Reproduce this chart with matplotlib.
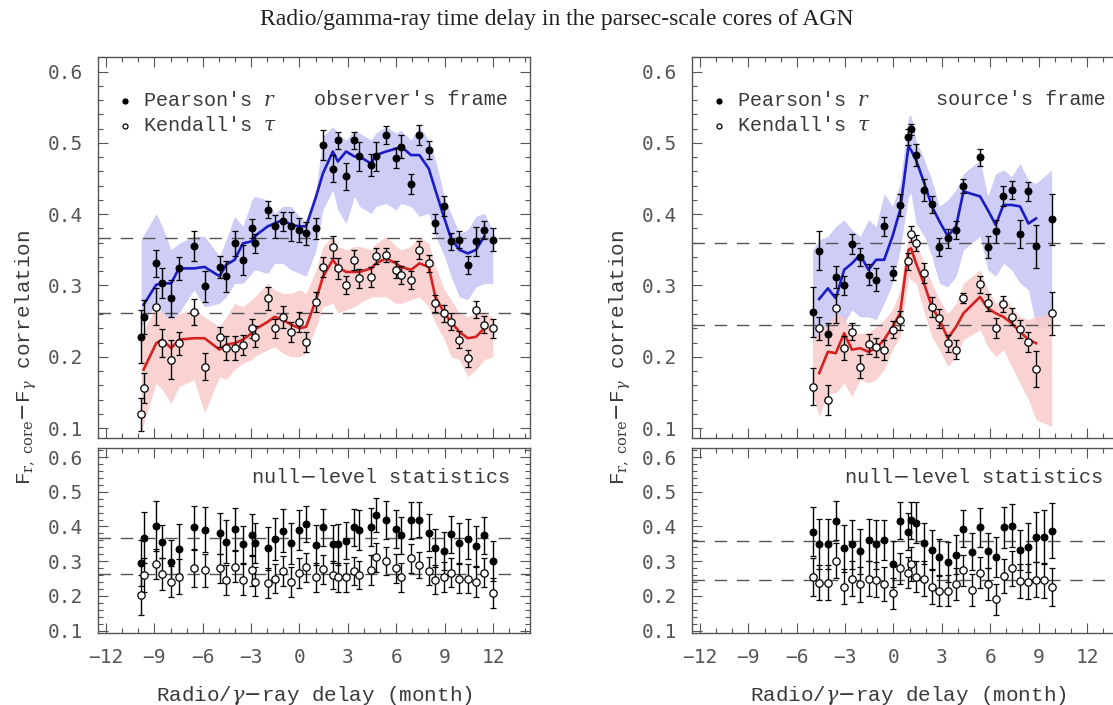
import matplotlib
matplotlib.use("Agg")
import matplotlib.pyplot as plt
from matplotlib.ticker import MultipleLocator

plt.rcParams["mathtext.fontset"] = "dejavuserif"

# ---------------- observer's frame ----------------
lag_obs = [-9.82, -9.67, -8.89, -8.52, -7.96, -7.48, -6.55, -5.89, -4.96, -4.55,
           -4.03, -3.51, -2.96, -2.79, -1.97, -1.55, -1.03, -0.52, 0.00, 0.41,
           1.03, 1.45, 2.07, 2.38, 2.89, 3.41, 3.72, 4.44, 4.75, 5.37,
           5.99, 6.30, 6.92, 7.44, 8.02, 8.43, 8.99, 9.40, 9.92, 10.44,
           10.95, 11.47, 11.99]

pearson_obs = [0.228, 0.256, 0.331, 0.303, 0.282, 0.324, 0.355, 0.299, 0.326, 0.313,
               0.359, 0.336, 0.380, 0.359, 0.406, 0.383, 0.390, 0.383, 0.378, 0.373,
               0.380, 0.497, 0.464, 0.504, 0.453, 0.504, 0.481, 0.469, 0.481, 0.511,
               0.479, 0.495, 0.443, 0.511, 0.490, 0.387, 0.411, 0.362, 0.364, 0.329,
               0.362, 0.378, 0.364]
pearson_obs_err = [0.037, 0.024, 0.019, 0.021, 0.026, 0.016, 0.021, 0.022, 0.015, 0.022,
                   0.017, 0.021, 0.013, 0.013, 0.012, 0.016, 0.013, 0.020, 0.017, 0.016,
                   0.015, 0.021, 0.019, 0.012, 0.019, 0.012, 0.020, 0.015, 0.020, 0.013,
                   0.014, 0.016, 0.014, 0.014, 0.013, 0.013, 0.014, 0.012, 0.012, 0.013,
                   0.020, 0.013, 0.016]

kendall_obs = [0.119, 0.156, 0.270, 0.219, 0.196, 0.219, 0.263, 0.186, 0.228, 0.212,
               0.212, 0.217, 0.240, 0.228, 0.282, 0.240, 0.256, 0.235, 0.249, 0.221,
               0.277, 0.326, 0.354, 0.324, 0.301, 0.336, 0.310, 0.312, 0.341, 0.343,
               0.322, 0.315, 0.308, 0.350, 0.331, 0.275, 0.261, 0.249, 0.224, 0.198,
               0.266, 0.245, 0.240]
kendall_obs_err = [0.023, 0.021, 0.026, 0.020, 0.027, 0.016, 0.018, 0.019, 0.014, 0.017,
                   0.017, 0.014, 0.013, 0.015, 0.016, 0.013, 0.015, 0.014, 0.014, 0.014,
                   0.014, 0.014, 0.015, 0.015, 0.013, 0.014, 0.013, 0.014, 0.011, 0.010,
                   0.012, 0.013, 0.013, 0.013, 0.012, 0.012, 0.012, 0.012, 0.012, 0.012,
                   0.012, 0.012, 0.013]

pearson_obs_mean = [None, 0.273, 0.301, 0.303, 0.303, 0.324, 0.324, 0.326, 0.313, 0.329,
                    0.336, 0.359, 0.362, 0.369, 0.383, 0.387, 0.392, 0.385, 0.383, 0.383,
                    0.425, 0.457, 0.488, 0.474, 0.488, 0.481, 0.481, 0.471, 0.483, 0.488,
                    0.492, 0.495, 0.483, 0.483, 0.464, 0.434, 0.394, 0.366, 0.350, 0.345,
                    0.350, 0.369, None]
kendall_obs_mean = [None, 0.182, 0.219, 0.224, 0.212, 0.224, 0.226, 0.226, 0.210, 0.217,
                    0.219, 0.224, 0.233, 0.238, 0.249, 0.256, 0.252, 0.245, 0.240, 0.242,
                    0.280, 0.312, 0.336, 0.326, 0.319, 0.319, 0.319, 0.324, 0.331, 0.338,
                    0.331, 0.326, 0.322, 0.331, 0.326, 0.284, 0.261, 0.249, 0.235, 0.226,
                    0.228, 0.240, None]

pearson_obs_hi = [0.364, 0.371, 0.401, 0.383, 0.350, 0.359, 0.369, 0.369, 0.341, 0.364,
                  0.397, 0.383, 0.420, 0.425, 0.420, 0.401, 0.411, 0.411, 0.397, 0.387,
                  0.434, 0.509, 0.523, 0.514, 0.504, 0.518, 0.514, 0.504, 0.514, 0.523,
                  0.514, 0.518, 0.504, 0.523, 0.504, 0.476, 0.425, 0.401, 0.373, 0.378,
                  0.397, 0.401, 0.378]
pearson_obs_lo = [0.242, 0.247, 0.275, 0.261, 0.252, 0.261, 0.294, 0.270, 0.275, 0.284,
                  0.303, 0.303, 0.317, 0.322, 0.317, 0.331, 0.331, 0.322, 0.317, 0.313,
                  0.350, 0.406, 0.434, 0.406, 0.387, 0.425, 0.411, 0.401, 0.411, 0.415,
                  0.406, 0.415, 0.411, 0.397, 0.401, 0.369, 0.341, 0.313, 0.284, 0.280,
                  0.298, 0.303, 0.303]
kendall_obs_hi = [0.228, 0.238, 0.270, 0.261, 0.252, 0.261, 0.266, 0.256, 0.242, 0.256,
                  0.275, 0.270, 0.280, 0.284, 0.303, 0.294, 0.289, 0.289, 0.294, 0.289,
                  0.322, 0.355, 0.369, 0.355, 0.350, 0.355, 0.355, 0.350, 0.359, 0.369,
                  0.355, 0.350, 0.355, 0.369, 0.359, 0.327, 0.294, 0.280, 0.261, 0.256,
                  0.261, 0.261, 0.256]
kendall_obs_lo = [0.093, 0.107, 0.163, 0.154, 0.135, 0.158, 0.168, 0.121, 0.172, 0.168,
                  0.182, 0.191, 0.196, 0.200, 0.210, 0.214, 0.205, 0.200, 0.200, 0.205,
                  0.242, 0.270, 0.275, 0.261, 0.266, 0.270, 0.275, 0.284, 0.284, 0.284,
                  0.275, 0.275, 0.280, 0.284, 0.270, 0.247, 0.224, 0.200, 0.196, 0.172,
                  0.182, 0.196, 0.200]

null_pearson_obs = [0.294, 0.368, 0.401, 0.356, 0.298, 0.334, 0.397, 0.390, 0.380, 0.356,
                    0.392, 0.349, 0.375, 0.353, 0.337, 0.363, 0.388, 0.351, 0.390, 0.407,
                    0.346, 0.397, 0.349, 0.348, 0.359, 0.397, 0.390, 0.399, 0.433, 0.418,
                    0.392, 0.375, 0.418, 0.420, 0.382, 0.337, 0.330, 0.377, 0.353, 0.363,
                    0.344, 0.375, 0.301]
null_pearson_obs_err = [0.067, 0.074, 0.072, 0.048, 0.062, 0.072, 0.062, 0.065, 0.060, 0.062,
                        0.060, 0.053, 0.060, 0.058, 0.062, 0.060, 0.062, 0.058, 0.058, 0.053,
                        0.058, 0.053, 0.055, 0.058, 0.053, 0.053, 0.058, 0.055, 0.050, 0.055,
                        0.055, 0.053, 0.053, 0.050, 0.053, 0.055, 0.055, 0.053, 0.058, 0.058,
                        0.058, 0.053, 0.058]
null_kendall_obs = [0.202, 0.260, 0.292, 0.263, 0.241, 0.255, 0.279, 0.274, 0.279, 0.246,
                    0.284, 0.247, 0.274, 0.241, 0.236, 0.250, 0.272, 0.241, 0.265, 0.282,
                    0.253, 0.276, 0.260, 0.253, 0.253, 0.272, 0.260, 0.274, 0.311, 0.301,
                    0.279, 0.253, 0.308, 0.289, 0.272, 0.247, 0.255, 0.267, 0.250, 0.250,
                    0.241, 0.267, 0.209]
null_kendall_obs_err = [0.058, 0.048, 0.043, 0.045, 0.045, 0.050, 0.053, 0.048, 0.043, 0.043,
                        0.045, 0.045, 0.045, 0.041, 0.043, 0.043, 0.043, 0.043, 0.043, 0.041,
                        0.043, 0.041, 0.041, 0.041, 0.041, 0.041, 0.041, 0.043, 0.041, 0.041,
                        0.043, 0.041, 0.041, 0.038, 0.041, 0.041, 0.043, 0.041, 0.041, 0.043,
                        0.043, 0.041, 0.043]

# ---------------- source's frame ----------------
lag_src = [-5.02, -4.61, -4.07, -3.58, -3.06, -2.58, -2.07, -1.55, -1.08, -0.58,
           -0.06, 0.41, 0.93, 1.09, 1.40, 1.92, 2.38, 2.85, 3.37, 3.88,
           4.34, 5.37, 5.85, 6.34, 6.82, 7.33, 7.85, 8.37, 8.84, 9.81]

pearson_src = [0.263, 0.349, 0.232, 0.312, 0.300, 0.358, 0.340, 0.315, 0.308, 0.383,
               0.318, 0.413, 0.508, 0.519, 0.483, 0.434, 0.414, 0.354, 0.366, 0.378,
               0.440, 0.480, 0.354, 0.376, 0.426, 0.434, 0.372, 0.432, 0.355, 0.393]
pearson_src_err = [0.035, 0.027, 0.016, 0.016, 0.014, 0.014, 0.013, 0.015, 0.016, 0.013,
                   0.010, 0.015, 0.011, 0.008, 0.016, 0.016, 0.012, 0.013, 0.013, 0.013,
                   0.010, 0.012, 0.016, 0.016, 0.014, 0.012, 0.020, 0.013, 0.030, 0.036]
kendall_src = [0.158, 0.240, 0.139, 0.268, 0.212, 0.235, 0.186, 0.218, 0.213, 0.210,
               0.238, 0.251, 0.334, 0.372, 0.360, 0.318, 0.270, 0.254, 0.219, 0.210,
               0.282, 0.302, 0.276, 0.240, 0.274, 0.256, 0.239, 0.221, 0.183, 0.261]
kendall_src_err = [0.026, 0.016, 0.021, 0.020, 0.017, 0.012, 0.016, 0.014, 0.014, 0.014,
                   0.012, 0.013, 0.012, 0.011, 0.011, 0.014, 0.014, 0.013, 0.012, 0.013,
                   0.007, 0.012, 0.012, 0.014, 0.011, 0.012, 0.013, 0.014, 0.025, 0.030]

pearson_src_mean = [None, 0.281, 0.296, 0.282, 0.322, 0.331, 0.343, 0.322, 0.336, 0.336,
                    0.369, 0.406, 0.495, 0.490, 0.476, 0.443, 0.411, 0.390, 0.369, 0.383,
                    0.432, 0.425, 0.406, 0.385, 0.413, 0.413, 0.411, 0.387, 0.394, None]
kendall_src_mean = [None, 0.177, 0.207, 0.205, 0.233, 0.210, 0.212, 0.207, 0.212, 0.224,
                    0.242, 0.261, 0.350, 0.352, 0.331, 0.301, 0.270, 0.252, 0.226, 0.242,
                    0.261, 0.284, 0.268, 0.261, 0.256, 0.247, 0.235, 0.224, 0.219, None]

pearson_src_hi = [0.350, 0.364, 0.369, 0.383, 0.392, 0.378, 0.369, 0.392, 0.383, 0.429,
                  0.411, 0.443, 0.537, 0.539, 0.504, 0.476, 0.448, 0.411, 0.420, 0.434,
                  0.457, 0.476, 0.425, 0.457, 0.462, 0.453, 0.471, 0.448, 0.443, 0.462]
pearson_src_lo = [0.219, 0.228, 0.219, 0.247, 0.247, 0.266, 0.256, 0.256, 0.252, 0.275,
                  0.303, 0.350, 0.425, 0.429, 0.387, 0.369, 0.341, 0.303, 0.298, 0.313,
                  0.350, 0.369, 0.322, 0.313, 0.331, 0.322, 0.303, 0.294, 0.242, 0.242]
kendall_src_hi = [0.224, 0.238, 0.247, 0.261, 0.256, 0.233, 0.233, 0.233, 0.242, 0.252,
                  0.266, 0.294, 0.369, 0.373, 0.359, 0.331, 0.303, 0.280, 0.261, 0.275,
                  0.303, 0.322, 0.294, 0.275, 0.284, 0.270, 0.256, 0.252, 0.256, 0.261]
kendall_src_lo = [0.149, 0.116, 0.149, 0.149, 0.163, 0.144, 0.168, 0.163, 0.168, 0.182,
                  0.210, 0.228, 0.313, 0.308, 0.303, 0.261, 0.228, 0.210, 0.186, 0.200,
                  0.224, 0.238, 0.214, 0.200, 0.210, 0.186, 0.163, 0.140, 0.112, 0.102]

lag_src_null = [-5.02, -4.61, -4.07, -3.58, -3.06, -2.58, -2.07, -1.55, -1.08, -0.58,
                -0.06, 0.41, 0.93, 1.09, 1.40, 1.92, 2.38, 2.85, 3.37, 3.88,
                4.34, 4.86, 5.37, 5.85, 6.34, 6.86, 7.33, 7.85, 8.37, 8.84,
                9.34, 9.81]
null_pearson_src = [0.385, 0.349, 0.349, 0.417, 0.337, 0.348, 0.329, 0.361, 0.348, 0.361,
                    0.292, 0.417, 0.385, 0.418, 0.411, 0.351, 0.332, 0.311, 0.298, 0.319,
                    0.394, 0.327, 0.397, 0.330, 0.313, 0.397, 0.402, 0.332, 0.340, 0.370,
                    0.370, 0.388]
null_pearson_src_err = [0.070, 0.072, 0.072, 0.055, 0.067, 0.070, 0.065, 0.060, 0.070, 0.058,
                        0.067, 0.053, 0.053, 0.053, 0.058, 0.058, 0.058, 0.053, 0.058, 0.055,
                        0.053, 0.053, 0.055, 0.050, 0.058, 0.060, 0.062, 0.058, 0.070, 0.072,
                        0.077, 0.080]
null_kendall_src = [0.255, 0.238, 0.238, 0.301, 0.226, 0.250, 0.233, 0.250, 0.247, 0.234,
                    0.207, 0.279, 0.267, 0.292, 0.255, 0.250, 0.226, 0.215, 0.215, 0.234,
                    0.274, 0.217, 0.267, 0.234, 0.190, 0.257, 0.279, 0.243, 0.241, 0.247,
                    0.245, 0.226]
null_kendall_src_err = [0.055, 0.050, 0.050, 0.050, 0.050, 0.050, 0.050, 0.050, 0.050, 0.050,
                        0.045, 0.045, 0.045, 0.050, 0.045, 0.050, 0.050, 0.045, 0.045, 0.045,
                        0.045, 0.045, 0.045, 0.045, 0.045, 0.050, 0.050, 0.050, 0.050, 0.050,
                        0.050, 0.055]

# null-hypothesis reference levels (Pearson, Kendall)
levels_obs = [0.367, 0.262]
levels_src = [0.359, 0.245]

TITLE = "Radio/gamma-ray time delay in the parsec-scale cores of AGN"
XLABEL = r"Radio/$\gamma$$-$ray delay (month)"
YLABEL = r"F$_{\mathrm{r,\ core}}$$-$F$_{\gamma}$ correlation"

BLUE_LINE = "#1c1cc4"
BLUE_BAND = "#cdcdf6"
RED_LINE = "#d42222"
RED_BAND = "#f8caca"
INK = "#3a3a3a"
GREY = "#555555"
TXT_FONT = "Liberation Mono"
NUM_FONT = "DejaVu Sans Mono"

fig = plt.figure(figsize=(11.13, 7.05), dpi=100)

W = 1113.0
H = 705.0


def box(x0, y_top, w, h):
    return [x0 / W, 1 - (y_top + h) / H, w / W, h / H]


def style_axes(ax, show_xlabels):
    ax.set_xlim(-12.5, 14.3)
    ax.xaxis.set_major_locator(MultipleLocator(3))
    ax.xaxis.set_minor_locator(MultipleLocator(1))
    ax.yaxis.set_major_locator(MultipleLocator(0.1))
    ax.yaxis.set_minor_locator(MultipleLocator(0.02))
    ax.tick_params(which="both", direction="in", top=True, right=True, colors=GREY,
                   labelcolor=GREY, width=0.8)
    ax.tick_params(which="major", length=7)
    ax.tick_params(which="minor", length=3.5)
    ax.tick_params(axis="y", labelsize=14, pad=11)
    ax.tick_params(axis="x", labelsize=14, pad=11)
    for s in ax.spines.values():
        s.set_color(GREY)
        s.set_linewidth(1.0)
    if not show_xlabels:
        ax.tick_params(axis="x", labelbottom=False)
    for lab in ax.get_yticklabels() + ax.get_xticklabels():
        lab.set_family(NUM_FONT)


def mean_line(ax, lags, vals, color):
    xs = [x for x, v in zip(lags, vals) if v is not None]
    ys = [v for v in vals if v is not None]
    ax.plot(xs, ys, color=color, lw=1.9, zorder=3, solid_joinstyle="round")


def points(ax, lags, vals, errs, filled):
    ax.errorbar(lags, vals, yerr=errs, fmt="o", ms=4.8 if filled else 5.3,
                mfc="black" if filled else "white", mec="black", mew=0.9,
                ecolor="black", elinewidth=1.0, capsize=2.2, capthick=1.0, zorder=5)


def key(ax, y_frac, filled, label):
    ax.plot([0.0625], [y_frac], transform=ax.transAxes, ls="none", marker="o", ms=3.6,
            mfc="black" if filled else "white", mec="black", mew=0.9, zorder=6)
    ax.text(0.104, y_frac, label, transform=ax.transAxes, ha="left", va="center",
            family=TXT_FONT, fontsize=14.5, color=INK)


def upper_panel(ax, lags, p, pe, k, ke, pm, km, phi, plo, khi, klo, levels, frame_text):
    ax.fill_between(lags, plo, phi, color=BLUE_BAND, lw=0, zorder=1)
    ax.fill_between(lags, klo, khi, color=RED_BAND, lw=0, alpha=0.85, zorder=2)
    for lv in levels:
        ax.axhline(lv, color=GREY, lw=1.0, dashes=(9, 7), zorder=2.5)
    mean_line(ax, lags, pm, BLUE_LINE)
    mean_line(ax, lags, km, RED_LINE)
    points(ax, lags, p, pe, True)
    points(ax, lags, k, ke, False)
    ax.set_ylim(0.086, 0.6206)
    key(ax, 0.885, True, "Pearson's $r$")
    key(ax, 0.820, False, r"Kendall's $\tau$")
    ax.text(frame_text[0], 0.888, frame_text[1], transform=ax.transAxes, ha="right",
            va="center", family=TXT_FONT, fontsize=14.5, color=INK)
    style_axes(ax, False)


def lower_panel(ax, lags, p, pe, k, ke, levels, text_x):
    for lv in levels:
        ax.axhline(lv, color=GREY, lw=1.0, dashes=(9, 7), zorder=1)
    points(ax, lags, p, pe, True)
    points(ax, lags, k, ke, False)
    ax.set_ylim(0.093, 0.626)
    ax.text(text_x, 0.843, "null$-$level statistics", transform=ax.transAxes,
            ha="right", va="center", family=TXT_FONT, fontsize=14.5, color=INK)
    style_axes(ax, True)
    ax.set_xlabel(XLABEL, family=TXT_FONT, fontsize=15, color=INK, labelpad=12)


ax1 = fig.add_axes(box(98, 57, 432, 381))
ax2 = fig.add_axes(box(98, 448, 432, 185))
ax3 = fig.add_axes(box(692, 57, 432, 381))
ax4 = fig.add_axes(box(692, 448, 432, 185))

upper_panel(ax1, lag_obs, pearson_obs, pearson_obs_err, kendall_obs, kendall_obs_err,
            pearson_obs_mean, kendall_obs_mean, pearson_obs_hi, pearson_obs_lo,
            kendall_obs_hi, kendall_obs_lo, levels_obs, (0.949, "observer's frame"))
lower_panel(ax2, lag_obs, null_pearson_obs, null_pearson_obs_err, null_kendall_obs,
            null_kendall_obs_err, levels_obs, 0.954)
upper_panel(ax3, lag_src, pearson_src, pearson_src_err, kendall_src, kendall_src_err,
            pearson_src_mean, kendall_src_mean, pearson_src_hi, pearson_src_lo,
            kendall_src_hi, kendall_src_lo, levels_src, (0.958, "source's frame"))
lower_panel(ax4, lag_src_null, null_pearson_src, null_pearson_src_err, null_kendall_src,
            null_kendall_src_err, levels_src, 0.951)

for x in (26, 620):
    fig.text(x / W, 1 - 358 / H, YLABEL, rotation=90, ha="center", va="center",
             family=TXT_FONT, fontsize=15, color=INK)

fig.text(557 / W, 1 - 20 / H, TITLE, ha="center", va="center",
         family="Liberation Serif", fontsize=17, color="#222222")

fig.savefig("out.png", dpi=100)
